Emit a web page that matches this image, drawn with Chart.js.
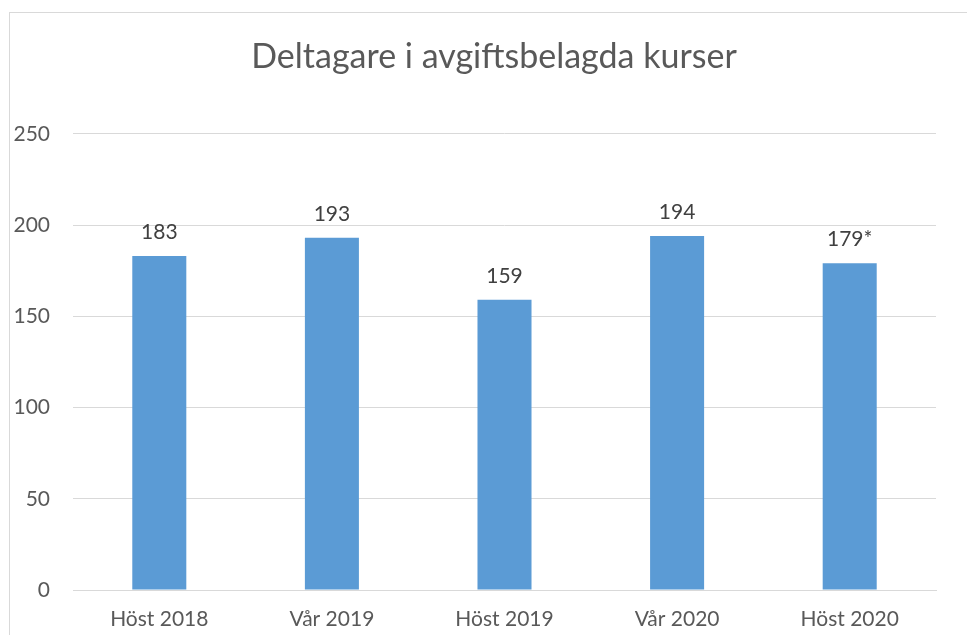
<!DOCTYPE html>
<html lang="sv">
<head>
  <meta charset="UTF-8">
  <title>Deltagare i avgiftsbelagda kurser</title>
  <script src="https://cdn.jsdelivr.net/npm/chart.js"></script>
  <style>
    html, body { margin: 0; padding: 0; background: #fff; overflow: hidden; }
    /* ram runt diagrammet, som i Excel */
    #frame {
      position: absolute; left: 9px; top: 12px;
      width: 980px; height: 640px;
      border: 1px solid #d9d9d9;
    }
    /* något bredare än fönstret så att rubriken hamnar mitt i ramen */
    #wrap { position: absolute; left: 0; top: 0; width: 988px; height: 635px; }
  </style>
</head>
<body>
<div id="frame"></div>
<div id="wrap"><canvas id="kurser"></canvas></div>

<script>
// data
const terminer = ['Höst 2018', 'Vår 2019', 'Höst 2019', 'Vår 2020', 'Höst 2020'];
const deltagare = [183, 193, 159, 194, 179];
const etiketter = ['183', '193', '159', '194', '179*'];
const yTicks = [0, 50, 100, 150, 200, 250];

const FONT = 'Lato, "Liberation Sans", sans-serif';

// skriver värdet ovanför varje stapel
const barLabels = {
  id: 'barLabels',
  afterDatasetsDraw(chart) {
    const ctx = chart.ctx;
    const meta = chart.getDatasetMeta(0);
    ctx.save();
    ctx.font = '21px ' + FONT;
    ctx.fillStyle = '#404040';
    ctx.textAlign = 'center';
    ctx.textBaseline = 'middle';
    meta.data.forEach((bar, i) => {
      ctx.fillText(etiketter[i], bar.x, bar.y - 24);
    });
    ctx.restore();
  }
};

new Chart(document.getElementById('kurser'), {
  type: 'bar',
  data: {
    labels: terminer,
    datasets: [{
      data: deltagare,
      backgroundColor: '#5b9bd5',
      borderWidth: 0,
      categoryPercentage: 1,
      barPercentage: 0.313
    }]
  },
  options: {
    responsive: true,
    maintainAspectRatio: false,
    animation: false,
    layout: { padding: { left: 0, right: 0, top: 0, bottom: 2 } },
    plugins: {
      legend: { display: false },
      tooltip: { enabled: false },
      title: {
        display: true,
        text: 'Deltagare i avgiftsbelagda kurser',
        color: '#595959',
        font: { family: FONT, size: 34, weight: 'normal' },
        padding: { top: 37, bottom: 56 }
      }
    },
    scales: {
      x: {
        afterFit(scale) { scale.height = 43; },
        grid: { display: false, drawTicks: false },
        border: { color: '#d9d9d9', width: 1 },
        ticks: {
          color: '#595959',
          font: { family: FONT, size: 21 },
          padding: 17,
          maxRotation: 0
        }
      },
      y: {
        min: 0,
        max: 250,
        afterBuildTicks(scale) {
          scale.ticks = yTicks.map(v => ({ value: v }));
        },
        afterFit(scale) { scale.width = 73; },
        grid: { color: '#d9d9d9', lineWidth: 1, drawTicks: false },
        border: { display: false },
        ticks: {
          color: '#595959',
          font: { family: FONT, size: 21 },
          padding: 23
        }
      },
      // tom axel till höger, bara för marginalen
      yRight: {
        position: 'right',
        afterFit(scale) { scale.width = 52; },
        grid: { display: false, drawTicks: false },
        border: { display: false },
        ticks: { display: false }
      }
    }
  },
  plugins: [barLabels]
});
</script>
</body>
</html>
